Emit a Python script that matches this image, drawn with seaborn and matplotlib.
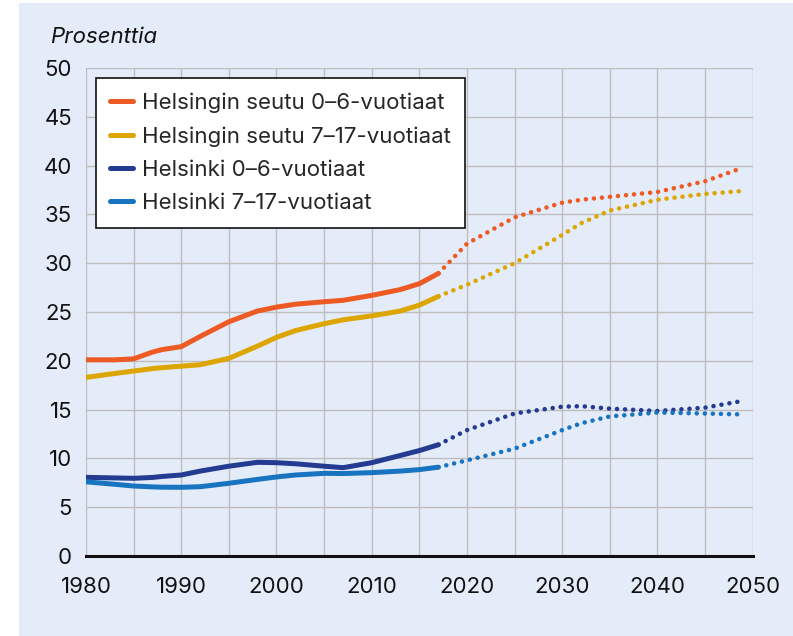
import matplotlib
matplotlib.use("Agg")
import matplotlib.pyplot as plt
import seaborn as sns
import pandas as pd
from matplotlib.lines import Line2D
from matplotlib.patches import Rectangle

# ---- data ----
series_names = ["Helsingin seutu 0–6-vuotiaat", "Helsingin seutu 7–17-vuotiaat",
                "Helsinki 0–6-vuotiaat", "Helsinki 7–17-vuotiaat"]
series_colors = ["#ee5a24", "#dca500", "#233b91", "#1874c0"]

hist_years = [1980, 1983, 1985, 1987, 1988, 1990, 1992, 1995, 1998, 2000, 2002,
              2005, 2007, 2010, 2013, 2015, 2017]
hist_seutu_0_6 = [20.1, 20.1, 20.2, 20.9, 21.15, 21.45, 22.5, 24.0, 25.1, 25.5, 25.8,
                  26.05, 26.2, 26.7, 27.3, 27.9, 28.95]
hist_seutu_7_17 = [18.3, 18.7, 18.95, 19.2, 19.3, 19.45, 19.6, 20.25, 21.5, 22.4, 23.1,
                   23.8, 24.2, 24.6, 25.1, 25.7, 26.6]
hist_hki_0_6 = [8.06, 8.0, 7.96, 8.05, 8.15, 8.3, 8.7, 9.2, 9.6, 9.56, 9.45,
                9.2, 9.05, 9.56, 10.3, 10.8, 11.4]
hist_hki_7_17 = [7.6, 7.35, 7.17, 7.08, 7.05, 7.04, 7.1, 7.45, 7.85, 8.1, 8.3,
                 8.47, 8.45, 8.54, 8.7, 8.85, 9.1]

proj_years = [2017, 2020, 2025, 2030, 2032, 2035, 2040, 2045, 2049]
proj_seutu_0_6 = [28.95, 32.0, 34.7, 36.2, 36.5, 36.8, 37.3, 38.4, 39.8]
proj_seutu_7_17 = [26.6, 27.8, 30.0, 32.9, 34.1, 35.4, 36.5, 37.1, 37.4]
proj_hki_0_6 = [11.4, 12.9, 14.6, 15.3, 15.35, 15.1, 14.86, 15.2, 15.9]
proj_hki_7_17 = [9.1, 9.8, 11.0, 12.9, 13.6, 14.3, 14.7, 14.6, 14.5]

y_ticks = [0, 5, 10, 15, 20, 25, 30, 35, 40, 45, 50]
x_ticks = [1980, 1990, 2000, 2010, 2020, 2030, 2040, 2050]
y_title = "Prosenttia"

hist_vals = [hist_seutu_0_6, hist_seutu_7_17, hist_hki_0_6, hist_hki_7_17]
proj_vals = [proj_seutu_0_6, proj_seutu_7_17, proj_hki_0_6, proj_hki_7_17]

rows = []
for name, hv, pv in zip(series_names, hist_vals, proj_vals):
    for yr, v in zip(hist_years, hv):
        rows.append({"year": yr, "value": v, "series": name, "kind": "hist"})
    for yr, v in zip(proj_years, pv):
        rows.append({"year": yr, "value": v, "series": name, "kind": "proj"})
df = pd.DataFrame(rows)

# ---- style ----
BG = "#e5ecf9"
sns.set_style("white")
plt.rcParams["font.family"] = ["Inter", "DejaVu Sans"]

fig = plt.figure(figsize=(7.93, 6.36), dpi=100, facecolor="white")
fig.patches.append(Rectangle((19 / 793, 0), 1 - 19 / 793, 1 - 3 / 636,
                             transform=fig.transFigure, facecolor=BG,
                             edgecolor="none", zorder=-10))
ax = fig.add_axes([86 / 793, 1 - 556 / 636, (752.7 - 86) / 793, (556 - 68) / 636])
ax.set_facecolor(BG)

for name, col in zip(series_names, series_colors):
    h = df[(df.series == name) & (df.kind == "hist")]
    p = df[(df.series == name) & (df.kind == "proj")]
    sns.lineplot(data=h, x="year", y="value", ax=ax, color=col, lw=3.6,
                 solid_capstyle="round", solid_joinstyle="round",
                 legend=False, zorder=3)
    sns.lineplot(data=p, x="year", y="value", ax=ax, color=col, lw=3.3,
                 linestyle=(0, (0.01, 1.75)), dash_capstyle="round",
                 legend=False, zorder=3)

ax.set_xlim(1980, 2050)
ax.set_ylim(0, 50)
ax.set_xticks(x_ticks)
ax.set_xticks(range(1985, 2050, 10), minor=True)
ax.set_yticks(y_ticks)
ax.grid(True, which="both", color="#bdbdbd", lw=1.0, zorder=0)
for s in ["left", "right", "top"]:
    ax.spines[s].set_visible(False)
ax.spines["bottom"].set_color("#111111")
ax.spines["bottom"].set_linewidth(2.2)
ax.spines["bottom"].set_zorder(4)
ax.tick_params(axis="x", which="both", direction="out", length=10, width=1,
               color="#bdbdbd", labelsize=16, pad=5)
ax.tick_params(axis="y", length=0, labelsize=16, pad=10)
ax.set_xlabel("")
ax.set_ylabel("")
for t in ax.get_xticklabels() + ax.get_yticklabels():
    t.set_color("#111111")

fig.text(50 / 793, 1 - 37 / 636, y_title, fontsize=16, style="italic",
         va="center", ha="left", color="#111111")

handles = [Line2D([0], [0], color=c, lw=3.6, solid_capstyle="round") for c in series_colors]
leg = ax.legend(handles, series_names, loc="upper left",
                bbox_to_anchor=(0.015, 0.98), fontsize=16, frameon=True,
                fancybox=False, handlelength=1.0, handletextpad=0.4,
                labelspacing=0.6, borderpad=0.65, borderaxespad=0)
leg.get_frame().set_edgecolor("#111111")
leg.get_frame().set_linewidth(1.2)
leg.get_frame().set_facecolor("white")
leg.get_frame().set_alpha(1)
leg.set_zorder(5)

fig.savefig("out.png", dpi=100, facecolor="white")
